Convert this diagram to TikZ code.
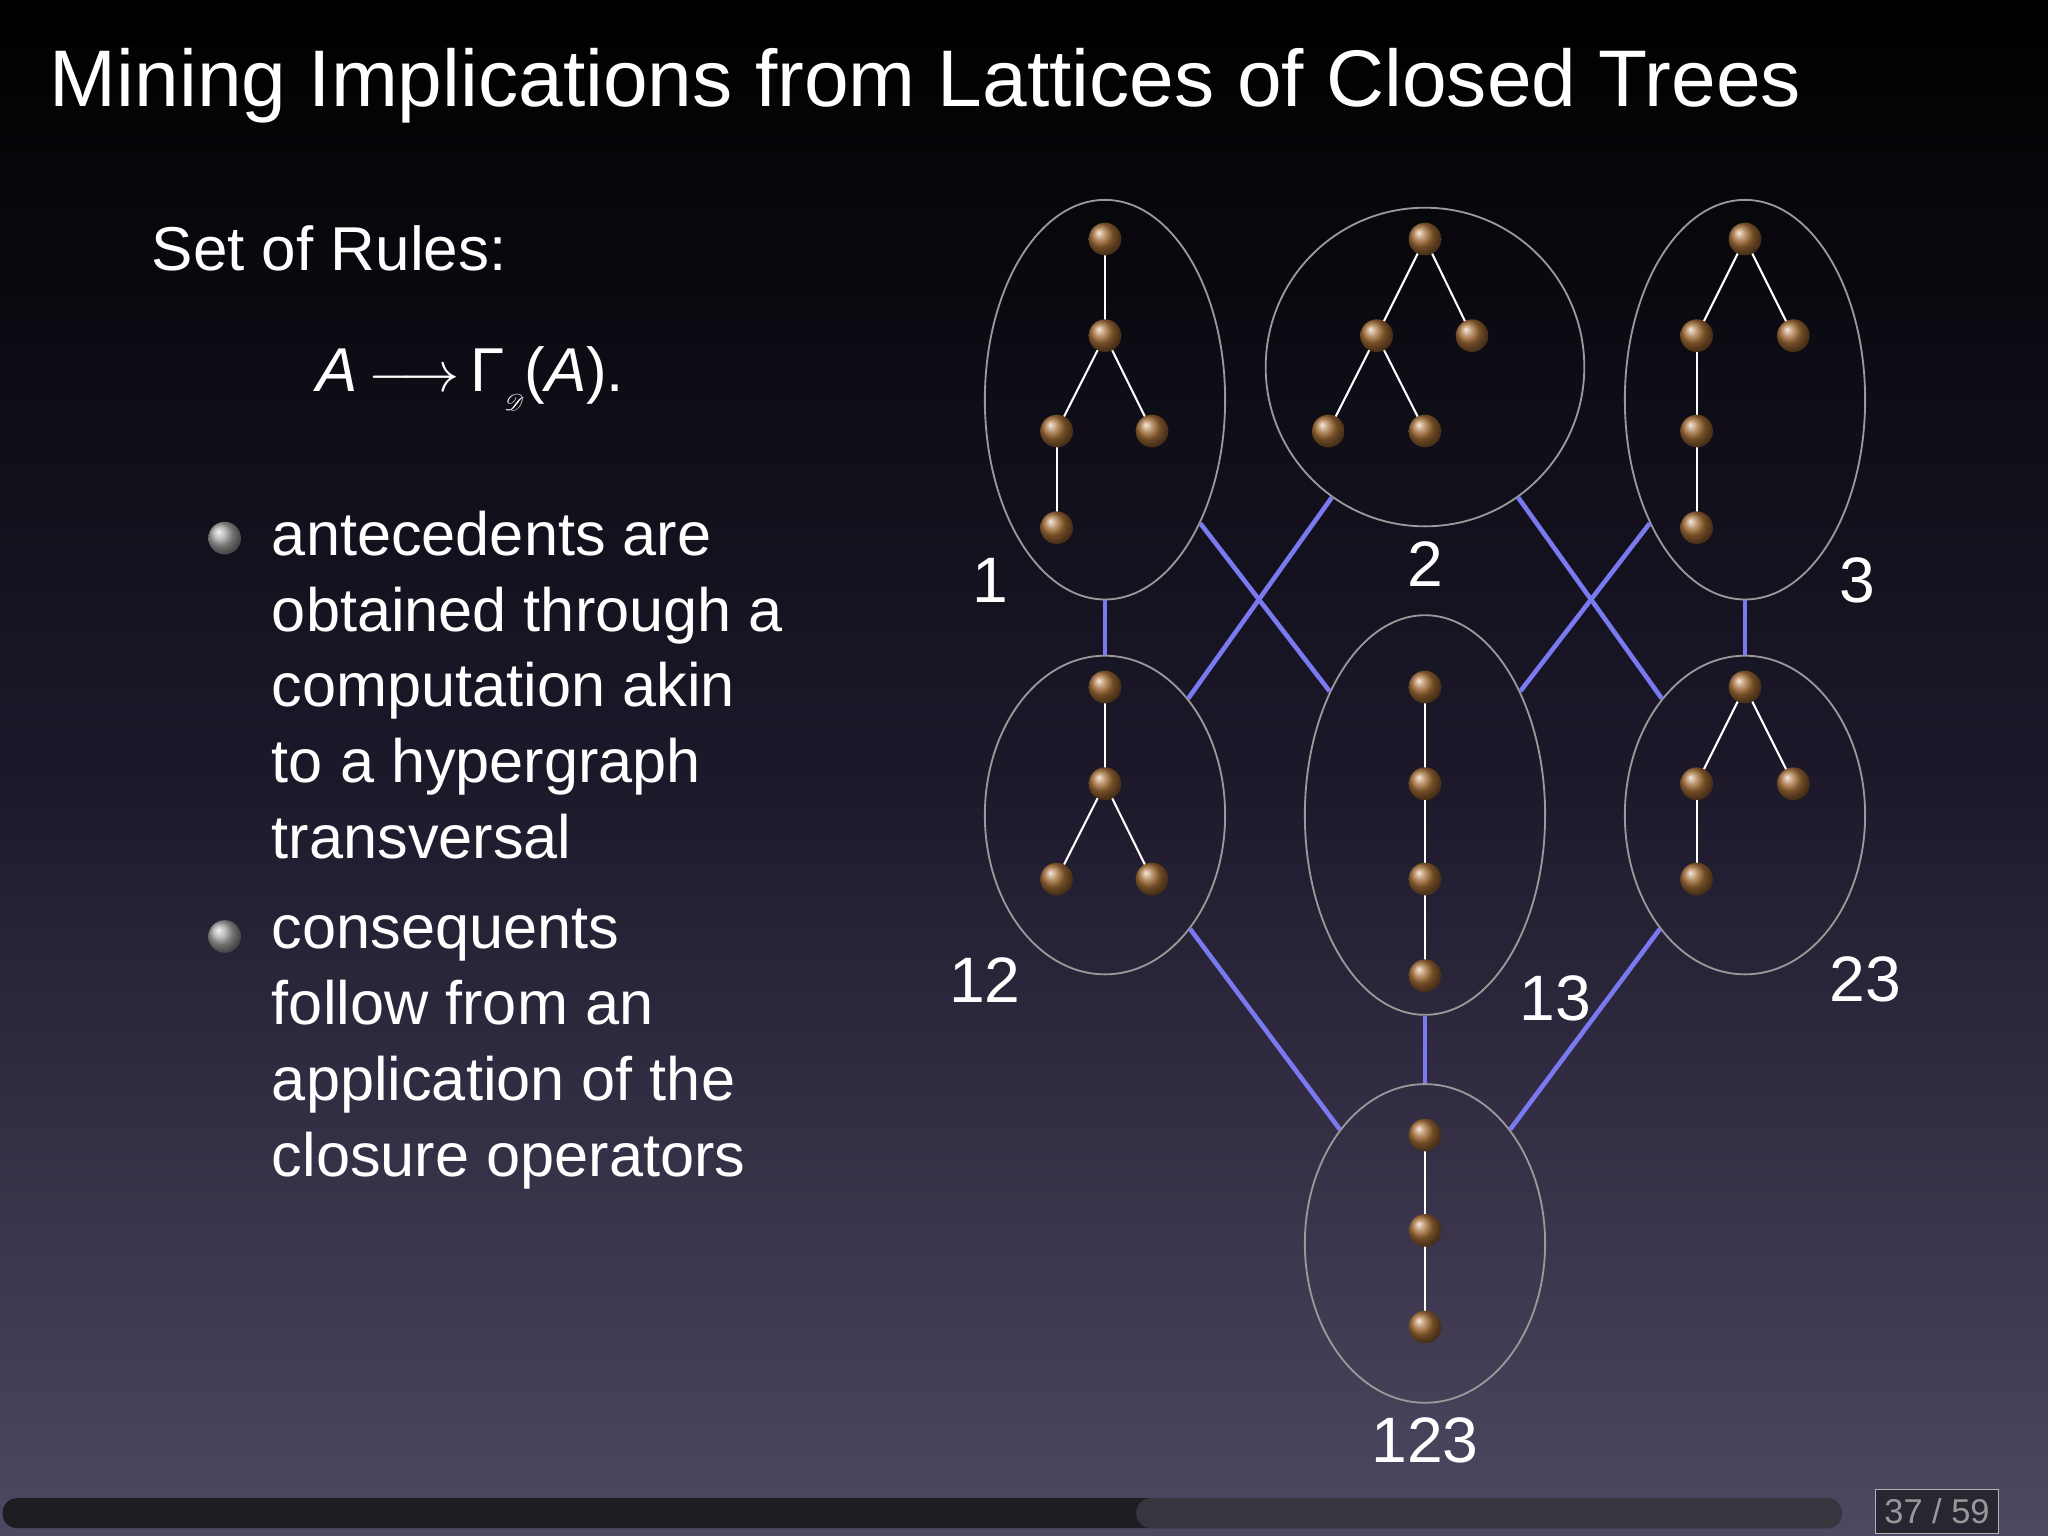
\documentclass[tikz,border=0pt]{standalone}
\usepackage{fontspec}
\setmainfont{Liberation Sans}
\usepackage{mathrsfs}
\usetikzlibrary{shapes.geometric}
\definecolor{edgeblue}{RGB}{122,122,240}
\definecolor{brownball}{RGB}{165,110,55}
\definecolor{bgbot}{RGB}{78,72,98}
\tikzset{
  ball/.style={circle,inner sep=0pt,minimum size=0.5cm,ball color=brownball},
  treeline/.style={white,line width=0.9pt},
  cell/.style={ellipse,draw=gray!80,line width=0.8pt,inner sep=0pt},
  lat/.style={edgeblue,line width=2pt},
  lab/.style={white,font=\fontsize{28}{33}\selectfont},
  bul/.style={circle,inner sep=0pt,minimum size=0.5cm,ball color=gray!70},
}
\begin{document}
\begin{tikzpicture}[x=0.02cm,y=-0.02cm]
\shade[top color=black,bottom color=bgbot,middle color={rgb,255:red,28;green,24;blue,42}] (0,0) rectangle (1568,1176);
\useasboundingbox (0,0) rectangle (1568,1176);
\node[anchor=west,white,font=\fontsize{35}{40}\selectfont] (title) at (32,66) {Mining Implications from Lattices of Closed Trees};
\node[anchor=west,white,font=\fontsize{27}{33}\selectfont] (rules) at (110,190) {Set of Rules:};
\node[anchor=west,white,font=\fontsize{27}{33}\selectfont] (formula) at (236,290) {\itshape A\/\upshape\,$\longrightarrow$\,Γ\raisebox{-0.3em}{\normalsize$\mathscr{D}$}(\itshape A\/\upshape).};
\node[bul] (b1) at (172,412) {};
\node[bul] (b2) at (172,717) {};
\node[anchor=north west,white,align=left,font=\fontsize{26.7}{33}\selectfont] (t1) at (202,385) {antecedents are\\obtained through a\\computation akin\\to a hypergraph\\transversal};
\node[anchor=north west,white,align=left,font=\fontsize{26.7}{33}\selectfont] (t2) at (202,690) {consequents\\follow from an\\application of the\\closure operators};
% cells
\node[cell,minimum width=3.68cm,minimum height=6.12cm] (c1) at (846,306) {};
\node[cell,minimum width=4.88cm,minimum height=4.88cm] (c2) at (1091,281) {};
\node[cell,minimum width=3.68cm,minimum height=6.12cm] (c3) at (1336,306) {};
\node[cell,minimum width=3.68cm,minimum height=4.88cm] (c12) at (846,624) {};
\node[cell,minimum width=3.68cm,minimum height=6.12cm] (c13) at (1091,624) {};
\node[cell,minimum width=3.68cm,minimum height=4.88cm] (c23) at (1336,624) {};
\node[cell,minimum width=3.68cm,minimum height=4.88cm] (c123) at (1091,952) {};
% lattice edges
\draw[lat] (c1) -- (c12);
\draw[lat] (c1) -- (c13);
\draw[lat] (c2) -- (c12);
\draw[lat] (c2) -- (c23);
\draw[lat] (c3) -- (c13);
\draw[lat] (c3) -- (c23);
\draw[lat] (c12) -- (c123);
\draw[lat] (c13) -- (c123);
\draw[lat] (c23) -- (c123);
% labels
\node[lab] (l1) at (758,444) {1};
\node[lab] (l2) at (1091,432) {2};
\node[lab] (l3) at (1422,444) {3};
\node[lab] (l12) at (754,750) {12};
\node[lab] (l13) at (1191,764) {13};
\node[lab] (l23) at (1428,750) {23};
\node[lab] (l123) at (1091,1103) {123};
% trees: nodes
\foreach \n/\x/\y in {a1/846/183,a2/846/257,a3/809/330,a4/882/330,a5/809/404,
  b1/1091/183,b2/1054/257,b3/1127/257,b4/1017/330,b5/1091/330,
  d1/1336/183,d2/1299/257,d3/1373/257,d4/1299/330,d5/1299/404,
  e1/846/526,e2/846/600,e3/809/673,e4/882/673,
  f1/1091/526,f2/1091/600,f3/1091/673,f4/1091/747,
  g1/1336/526,g2/1299/600,g3/1373/600,g4/1299/673,
  h1/1091/869,h2/1091/942,h3/1091/1016}
  \coordinate (\n) at (\x,\y);
\foreach \u/\v in {a1/a2,a2/a3,a2/a4,a3/a5,b1/b2,b1/b3,b2/b4,b2/b5,d1/d2,d1/d3,d2/d4,d4/d5,
  e1/e2,e2/e3,e2/e4,f1/f2,f2/f3,f3/f4,g1/g2,g1/g3,g2/g4,h1/h2,h2/h3}
  \draw[treeline,shorten >=6pt,shorten <=6pt] (\u) -- (\v);
\foreach \n in {a1,a2,a3,a4,a5,b1,b2,b3,b4,b5,d1,d2,d3,d4,d5,e1,e2,e3,e4,f1,f2,f3,f4,g1,g2,g3,g4,h1,h2,h3}
  \node[ball] (n\n) at (\n) {};
% progress bar
\fill[rounded corners=0.22cm,fill={rgb,255:red,30;green,30;blue,34}] (2,1147) rectangle (1410,1170);
\fill[rounded corners=0.22cm,fill={rgb,255:red,55;green,53;blue,62}] (870,1147) rectangle (1410,1170);
\draw[gray!60,fill={rgb,255:red,40;green,38;blue,48}] (1436,1140) rectangle (1530,1174);
\node[gray!80,font=\fontsize{15}{17}\selectfont] (pg) at (1483,1157) {37 / 59};
\end{tikzpicture}
\end{document}
